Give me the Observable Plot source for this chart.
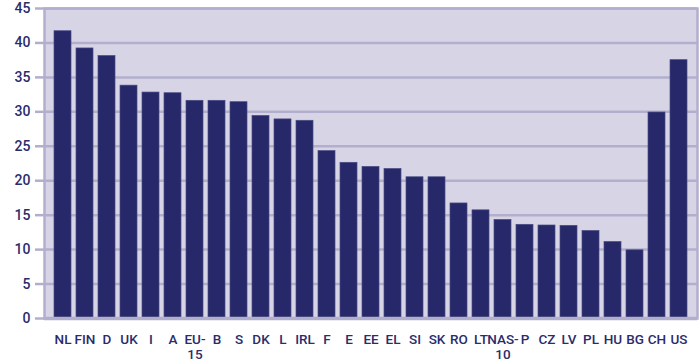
<!DOCTYPE html>
<html>
<head>
<meta charset="utf-8">
<script src="https://cdn.jsdelivr.net/npm/d3@7"></script>
<script src="https://cdn.jsdelivr.net/npm/@observablehq/plot@0.6"></script>
<style>
  html, body { margin: 0; padding: 0; background: #ffffff; }
  #chart svg { display: block; }
</style>
</head>
<body>
<div id="chart"></div>
<script>
const countries = ["NL","FIN","D","UK","I","A","EU-15","B","S","DK","L","IRL","F","E","EE","EL","SI","SK","RO","LT","NAS-10","P","CZ","LV","PL","HU","BG","CH","US"];
const values = [41.7,39.2,38.1,33.8,32.8,32.7,31.6,31.6,31.4,29.4,28.9,28.7,24.3,22.6,22.0,21.7,20.5,20.5,16.7,15.7,14.3,13.6,13.5,13.45,12.7,11.1,9.9,29.9,37.5];
const yTicks = [0,5,10,15,20,25,30,35,40,45];
const xLabels = {"EU-15": "EU-\n15", "NAS-10": "NAS-\n10"};

const data = countries.map((c, i) => ({country: c, value: values[i]}));

const navy = "#262869";
const grid = "#b2aece";
const textColor = "#2a2c6c";

const chart = Plot.plot({
  width: 700,
  height: 364,
  marginTop: 8,
  marginBottom: 46,
  marginLeft: 44,
  marginRight: 3,
  style: {fontFamily: "Roboto, 'Liberation Sans', sans-serif", fontSize: "13.5px", fontWeight: 500, color: textColor, background: "#ffffff"},
  x: {domain: countries, paddingInner: 0.24, paddingOuter: 0.215, label: null},
  y: {domain: [0, 45], label: null},
  marks: [
    Plot.frame({fill: "#d7d5e5"}),
    Plot.ruleY(yTicks, {stroke: grid, strokeWidth: 2.5}),
    Plot.barY(data, {x: "country", y: "value", fill: navy, stroke: "#4a4b85", strokeWidth: 0.7}),
    Plot.frame({stroke: grid, strokeWidth: 2.5}),
    Plot.ruleY([0], {stroke: grid, strokeWidth: 3.5}),
    Plot.axisY({ticks: yTicks, tickSize: 9, tickPadding: 5, stroke: grid, strokeWidth: 2.5, fill: textColor, fontSize: 14, fontWeight: 500, tickFormat: d => String(d)}),
    Plot.axisX({tickSize: 0, tickPadding: 14, fill: textColor, fontSize: 13.5, fontWeight: 500, lineHeight: 1.15, tickFormat: d => xLabels[d] || d})
  ]
});
document.getElementById("chart").appendChild(chart);
</script>
</body>
</html>
